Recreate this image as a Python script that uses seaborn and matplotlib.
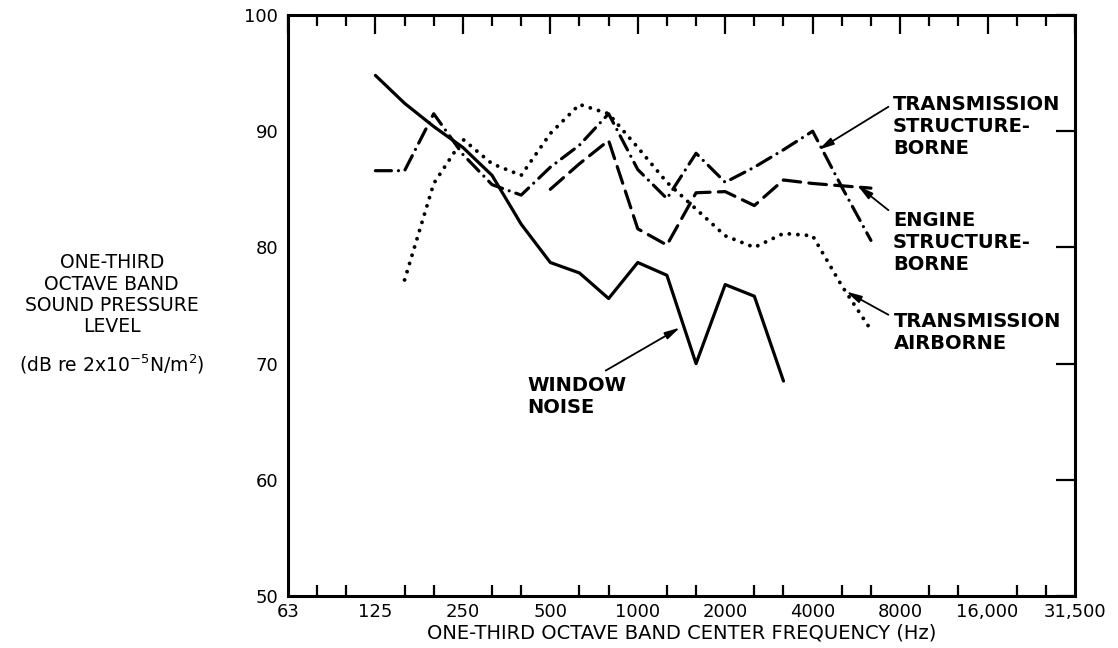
import matplotlib
matplotlib.use("Agg")
import matplotlib.pyplot as plt
import numpy as np
import pandas as pd
import seaborn as sns

# one-third octave band centre frequencies (Hz)
bands = ["63", "80", "100", "125", "160", "200", "250", "315", "400", "500",
         "630", "800", "1000", "1250", "1600", "2000", "2500", "3150", "4000",
         "5000", "6300", "8000", "10000", "12500", "16000", "20000", "25000", "31500"]
octave_labels = ["63", "125", "250", "500", "1000", "2000", "4000", "8000",
                 "16,000", "31,500"]

# window noise (solid)
window_freq = ["125", "160", "200", "250", "315", "400", "500", "630", "800",
               "1000", "1250", "1600", "2000", "2500", "3150"]
window_spl = [94.8, 92.4, 90.4, 88.6, 86.2, 82.0, 78.7, 77.8, 75.6,
              78.7, 77.6, 70.0, 76.8, 75.8, 68.5]

# transmission structure-borne (dash-dot)
trans_sb_freq = ["125", "160", "200", "250", "315", "400", "500", "630", "800",
                 "1000", "1250", "1600", "2000", "2500", "3150", "4000", "5000", "6300"]
trans_sb_spl = [86.6, 86.6, 91.5, 88.0, 85.4, 84.5, 86.9, 88.8, 91.5,
                86.7, 84.2, 88.1, 85.6, 86.9, 88.4, 90.0, 85.2, 80.6]

# engine structure-borne (dashed)
engine_freq = ["500", "630", "800", "1000", "1250", "1600", "2000", "2500",
               "3150", "4000", "5000", "6300"]
engine_spl = [85.0, 87.2, 89.2, 81.6, 80.2, 84.7, 84.8, 83.6,
              85.8, 85.5, 85.3, 85.1]

# transmission airborne (dotted)
trans_ab_freq = ["160", "200", "250", "315", "400", "500", "630", "800", "1000",
                 "1250", "1600", "2000", "2500", "3150", "4000", "5000", "6300"]
trans_ab_spl = [77.2, 85.5, 89.3, 87.2, 86.2, 89.8, 92.3, 91.5, 88.6,
                85.6, 83.3, 81.0, 80.0, 81.2, 81.0, 76.7, 72.9]


def to_frame(freqs, spl):
    return pd.DataFrame({"band": [bands.index(f) for f in freqs], "spl": spl})


sns.set_style("white")
plt.rcParams["font.family"] = ["DejaVu Sans"]
plt.rcParams["text.color"] = "black"
plt.rcParams["axes.labelcolor"] = "black"
plt.rcParams["xtick.color"] = "black"
plt.rcParams["ytick.color"] = "black"

fig = plt.figure(figsize=(11.18, 6.48), dpi=100)
ax = fig.add_axes([0.2576, 0.0802, 0.7039, 0.8967])

lw = 2.3
sns.lineplot(data=to_frame(window_freq, window_spl), x="band", y="spl", ax=ax,
             color="black", linewidth=lw, linestyle="-")
sns.lineplot(data=to_frame(trans_sb_freq, trans_sb_spl), x="band", y="spl", ax=ax,
             color="black", linewidth=lw, linestyle=(0, (5, 2.2, 0.01, 2.2)),
             dash_capstyle="round")
sns.lineplot(data=to_frame(engine_freq, engine_spl), x="band", y="spl", ax=ax,
             color="black", linewidth=lw, linestyle=(0, (5.5, 2.6)),
             dash_capstyle="round")
sns.lineplot(data=to_frame(trans_ab_freq, trans_ab_spl), x="band", y="spl", ax=ax,
             color="black", linewidth=2.8, linestyle=(0, (0.01, 2.2)),
             dash_capstyle="round")

ax.set_xlim(0, len(bands) - 1)
ax.set_ylim(50, 100)
ax.set_xticks([bands.index(b) for b in bands[::3]])
ax.set_xticklabels(octave_labels)
ax.set_xticks([i for i in range(len(bands)) if i % 3], minor=True)
ax.set_yticks(range(50, 101, 10))
ax.tick_params(axis="both", which="major", direction="in", top=True, right=True,
               length=14, width=1.6, labelsize=13, color="black", pad=5)
ax.tick_params(axis="x", which="minor", direction="in", top=True, bottom=True,
               length=8, width=1.6)
ax.tick_params(axis="y", pad=7)
for s in ax.spines.values():
    s.set_visible(True)
    s.set_linewidth(2.2)
    s.set_color("black")

ax.set_xlabel("ONE-THIRD OCTAVE BAND CENTER FREQUENCY (Hz)", fontsize=14, labelpad=2)
ax.set_ylabel("")

fig.text(0.1, 0.545, "ONE-THIRD\nOCTAVE BAND\nSOUND PRESSURE\nLEVEL",
         ha="center", va="center", multialignment="center", fontsize=13.5,
         linespacing=1.15)
fig.text(0.1, 0.438, r"(dB re 2x10$^{\mathregular{-5}}$N/m$^{\mathregular{2}}$)",
         ha="center", va="center", fontsize=13.5)

arrow = dict(arrowstyle="-|>,head_length=0.9,head_width=0.22", color="black",
             lw=1.3, shrinkA=0, shrinkB=0)
label_kw = dict(ha="left", va="center", fontsize=14, fontweight="bold",
                linespacing=1.2)

ax.text(20.75, 90.4, "TRANSMISSION\nSTRUCTURE-\nBORNE", **label_kw)
ax.annotate("", xy=(18.2, 88.4), xytext=(20.6, 92.1), arrowprops=arrow)

ax.text(20.75, 80.4, "ENGINE\nSTRUCTURE-\nBORNE", **label_kw)
ax.annotate("", xy=(19.55, 85.3), xytext=(20.6, 83.2), arrowprops=arrow)

ax.text(20.8, 72.7, "TRANSMISSION\nAIRBORNE", **label_kw)
ax.annotate("", xy=(19.15, 76.2), xytext=(20.6, 74.2), arrowprops=arrow)

ax.text(8.2, 67.2, "WINDOW\nNOISE", **label_kw)
ax.annotate("", xy=(13.45, 73.1), xytext=(10.9, 69.4), arrowprops=arrow)

fig.savefig("out.png", dpi=100)
